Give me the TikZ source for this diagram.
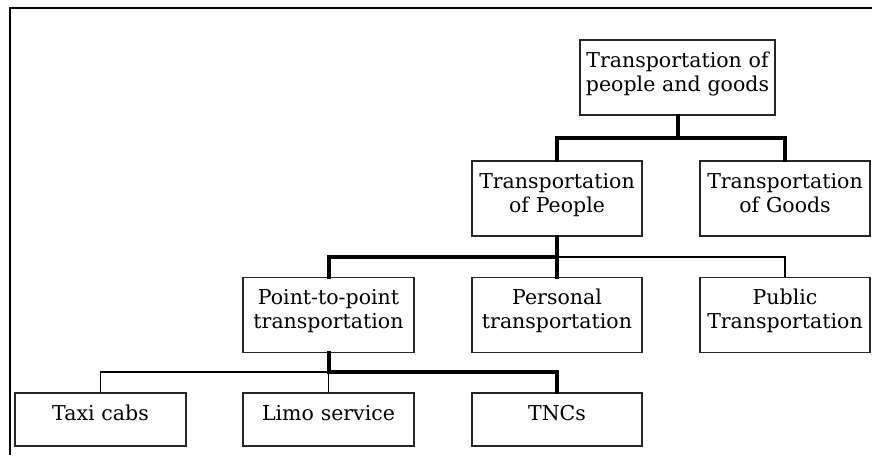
\documentclass[tikz,border=0pt]{standalone}
\usepackage{fontspec}
\setmainfont{DejaVu Serif}
\begin{document}
\begin{tikzpicture}[x=1pt,y=-1pt]
% Boxes
\tikzset{tall box/.style={draw=black!85,line width=1.3pt,inner sep=0pt,text width=170pt,align=center,
  text height=27pt,text depth=48pt,font=\fontsize{20.5}{24}\selectfont}}
\tikzset{short box/.style={tall box,text depth=26pt}}
\tikzset{thick link/.style={line width=4pt,line cap=rect}}
\tikzset{thin link/.style={line width=1.4pt}}

  \useasboundingbox (0,0) rectangle (872,455);
  \draw[line width=2pt] (10,455) -- (10,7.5) -- (872,7.5);

  \node[tall box,text width=195pt] (root) at (677.5,77.5) {Transportation of\\people and goods};
  \node[tall box] (people) at (557,198.5) {Transportation\\of People};
  \node[tall box] (goods) at (785,198.5) {Transportation\\of Goods};
  \node[tall box,text width=171pt] (p2p) at (328.5,315) {Point-to-point\\transportation};
  \node[tall box] (personal) at (557,315) {Personal\\transportation};
  \node[tall box] (public) at (785,315) {Public\\Transportation};
  \node[short box,text width=171pt] (taxi) at (100.5,419.5) {Taxi cabs};
  \node[short box,text width=171pt] (limo) at (328.5,419.5) {Limo service};
  \node[short box] (tnc) at (557,419.5) {TNCs};

% Junctions
  \coordinate (j1) at (677.5,138);
  \coordinate (j2) at (557,257);
  \coordinate (j3) at (328.5,372);

\draw[thick link] (root) -- (j1) -| (people) (j1) -| (goods);
\draw[thick link] (people) -- (j2) -| (p2p) (j2) -- (personal);
\draw[thin link] (j2) -| (public);
\draw[thick link] (p2p) -- (j3) -| (tnc);
\draw[thin link] (j3) -| (taxi) (j3) -- (limo);

\end{tikzpicture}
\end{document}
